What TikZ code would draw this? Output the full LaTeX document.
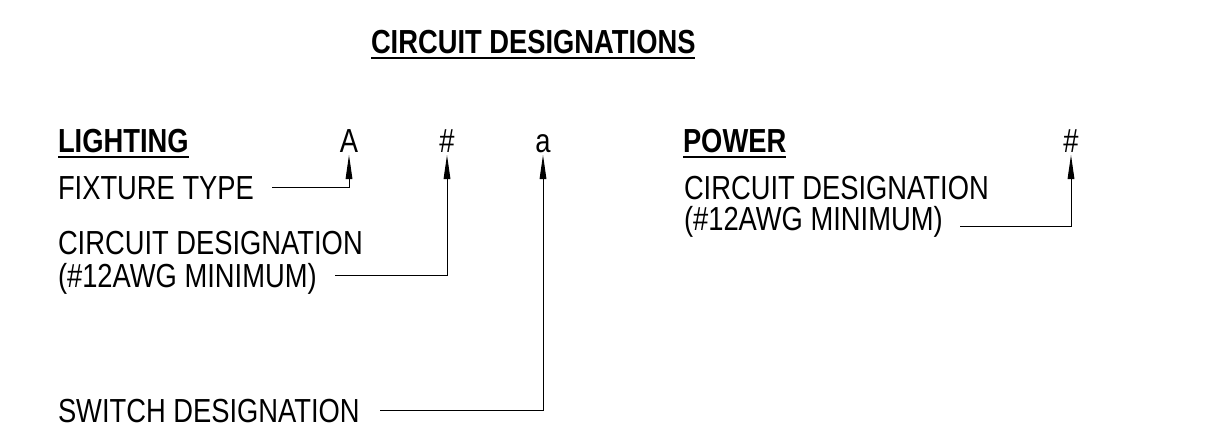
\documentclass[tikz,border=0pt]{standalone}
\usepackage{fontspec}
\setmainfont[FakeStretch=0.82]{Liberation Sans}
\usetikzlibrary{arrows.meta,calc}
\begin{document}
\begin{tikzpicture}[x=0.75pt,y=-0.75pt,
  txt/.style={anchor=base west,inner sep=0pt,outer sep=0pt,font=\fontsize{25}{30}\selectfont},
  sym/.style={txt,anchor=base},
  hdr/.style={txt,font=\fontsize{25}{30}\selectfont\bfseries},
  ul/.style={line width=2pt},
  conn/.style={line width=0.7pt,-{Triangle[length=18pt,width=5pt]}}]
\useasboundingbox (0,0) rectangle (1210,432);
% title and headings
\node[hdr] (title) at (371,53) {CIRCUIT DESIGNATIONS};
\draw[ul] ($(title.base west)+(0,5)$) -- ($(title.base east)+(0,5)$);
\node[hdr] (light) at (58,152) {LIGHTING};
\draw[ul] ($(light.base west)+(0,5)$) -- ($(light.base east)+(0,5)$);
\node[hdr] (power) at (683,152) {POWER};
\draw[ul] ($(power.base west)+(0,5)$) -- ($(power.base east)+(0,5)$);
% designation letters
\node[sym] (A) at (349,152) {A};
\node[sym] (H) at (447,152) {\#};
\node[sym] (a) at (543,152) {a};
\node[sym] (PH) at (1071,152) {\#};
% labels
\node[txt] (fix) at (58,199) {FIXTURE TYPE};
\node[txt] (cd1) at (58,254) {CIRCUIT DESIGNATION};
\node[txt] (cd2) at (58,287) {(\#12AWG MINIMUM)};
\node[txt] (sw) at (58,422) {SWITCH DESIGNATION};
\node[txt] (pcd1) at (684,199) {CIRCUIT DESIGNATION};
\node[txt] (pcd2) at (684,230) {(\#12AWG MINIMUM)};
% arrow tips and line starts
\coordinate (tA) at (349,155);
\coordinate (tH) at (447,155);
\coordinate (ta) at (543,155);
\coordinate (tP) at (1071,155);
\coordinate (sfix) at (272,187);
\coordinate (scd) at (335,275);
\coordinate (ssw) at (380,410);
\coordinate (spcd) at (960,226);
\draw[conn] (sfix) -| (tA);
\draw[conn] (scd) -| (tH);
\draw[conn] (ssw) -| (ta);
\draw[conn] (spcd) -| (tP);
\end{tikzpicture}
\end{document}
